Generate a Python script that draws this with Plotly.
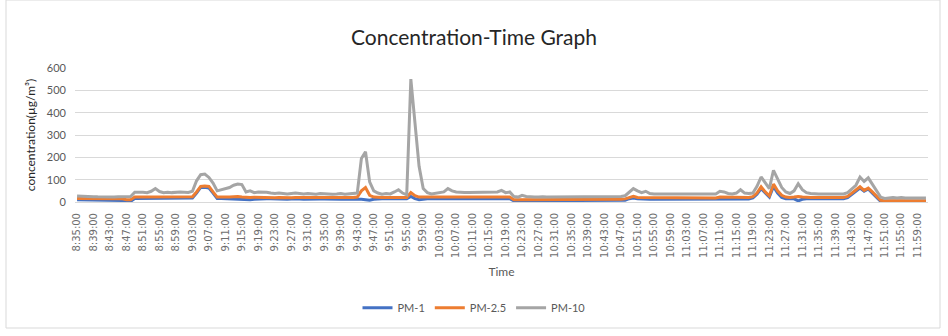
import pandas as pd
import plotly.graph_objects as go

# Sampling times: one reading per minute from 8:35 to 12:01
START_TIME = "08:35"
N_POINTS = 207

# Axis tick labels (every fourth minute)
TICK_LABELS = [
    "8:35:00", "8:39:00", "8:43:00", "8:47:00", "8:51:00", "8:55:00", "8:59:00",
    "9:03:00", "9:07:00", "9:11:00", "9:15:00", "9:19:00", "9:23:00", "9:27:00",
    "9:31:00", "9:35:00", "9:39:00", "9:43:00", "9:47:00", "9:51:00", "9:55:00",
    "9:59:00", "10:03:00", "10:07:00", "10:11:00", "10:15:00", "10:19:00",
    "10:23:00", "10:27:00", "10:31:00", "10:35:00", "10:39:00", "10:43:00",
    "10:47:00", "10:51:00", "10:55:00", "10:59:00", "11:03:00", "11:07:00",
    "11:11:00", "11:15:00", "11:19:00", "11:23:00", "11:27:00", "11:31:00",
    "11:35:00", "11:39:00", "11:43:00", "11:47:00", "11:51:00", "11:55:00",
    "11:59:00",
]

# Concentrations in µg/m³
PM1 = [
    10, 10, 10, 10, 9, 9, 9, 9, 9, 9,
    8, 7, 3, 3, 16, 16, 16, 16, 16, 18,
    16, 16, 16, 16, 16, 16, 16, 16, 18, 40,
    65, 66, 62, 40, 16, 16, 15, 15, 14, 12,
    10, 10, 10, 12, 14, 14, 15, 14, 13, 14,
    13, 12, 13, 14, 13, 12, 13, 14, 12, 13,
    13, 12, 13, 13, 12, 13, 13, 13, 14, 12,
    10, 8, 12, 14, 14, 14, 14, 14, 15, 14,
    14, 25, 15, 10, 14, 15, 15, 15, 15, 15,
    15, 15, 15, 15, 15, 15, 15, 15, 15, 15,
    15, 15, 15, 15, 15, 15, 5, 5, 5, 5,
    5, 5, 5, 5, 5, 5, 5, 5, 5, 5,
    5, 5, 5, 5, 5, 5, 5, 5, 5, 5,
    5, 5, 5, 8, 15, 18, 15, 13, 13, 12,
    12, 12, 12, 12, 12, 12, 12, 12, 12, 12,
    12, 12, 12, 12, 12, 12, 12, 12, 12, 12,
    12, 14, 13, 13, 18, 35, 60, 40, 22, 70,
    40, 20, 14, 14, 14, 5, 12, 14, 15, 15,
    15, 15, 15, 15, 15, 15, 15, 20, 35, 48,
    62, 48, 58, 40, 20, 3, 3, 3, 3, 3,
    3, 3, 3, 3, 3, 3, 3,
]

PM25 = [
    16, 16, 16, 15, 15, 14, 14, 14, 13, 13,
    14, 14, 10, 10, 22, 22, 22, 22, 22, 25,
    22, 22, 22, 22, 22, 22, 22, 22, 24, 45,
    70, 72, 70, 45, 22, 22, 21, 22, 24, 25,
    22, 20, 20, 21, 20, 20, 20, 18, 19, 20,
    19, 18, 19, 20, 20, 18, 19, 20, 18, 20,
    20, 19, 20, 20, 19, 20, 20, 20, 22, 50,
    65, 30, 22, 20, 20, 20, 20, 21, 22, 20,
    20, 42, 28, 22, 22, 22, 22, 22, 22, 22,
    22, 22, 22, 22, 22, 22, 22, 22, 22, 22,
    22, 22, 22, 22, 22, 22, 10, 10, 10, 10,
    10, 10, 10, 10, 10, 10, 10, 10, 12, 12,
    12, 12, 12, 12, 12, 12, 12, 12, 12, 12,
    12, 12, 12, 14, 20, 25, 20, 20, 20, 19,
    18, 18, 18, 18, 18, 18, 18, 18, 18, 18,
    18, 18, 18, 18, 18, 18, 22, 22, 20, 20,
    20, 22, 20, 20, 24, 40, 68, 45, 28, 80,
    50, 30, 22, 20, 22, 25, 22, 20, 20, 20,
    20, 20, 20, 20, 20, 20, 20, 25, 40, 52,
    68, 52, 62, 45, 25, 8, 6, 6, 6, 6,
    6, 6, 6, 6, 6, 6, 6,
]

PM10 = [
    27, 27, 27, 26, 24, 23, 22, 22, 22, 22,
    24, 24, 25, 25, 44, 45, 44, 42, 48, 60,
    47, 42, 44, 42, 45, 45, 44, 43, 48, 95,
    122, 125, 110, 85, 50, 55, 60, 65, 75, 80,
    78, 45, 50, 42, 45, 45, 44, 40, 38, 40,
    38, 36, 38, 40, 38, 36, 38, 36, 35, 38,
    36, 36, 35, 36, 38, 35, 36, 36, 40, 195,
    225, 90, 50, 40, 35, 38, 36, 45, 55, 40,
    32, 550, 360, 160, 60, 42, 36, 38, 40, 45,
    60, 50, 45, 42, 42, 42, 42, 42, 44, 42,
    42, 42, 45, 52, 42, 45, 25, 22, 30, 25,
    22, 22, 22, 24, 22, 22, 24, 25, 24, 24,
    22, 22, 22, 22, 22, 22, 22, 22, 22, 22,
    22, 25, 25, 28, 45, 60, 50, 42, 48, 38,
    36, 36, 36, 36, 36, 36, 36, 36, 36, 36,
    36, 36, 36, 36, 36, 36, 48, 45, 38, 36,
    40, 55, 40, 38, 40, 70, 112, 85, 60, 142,
    100, 65, 45, 38, 50, 82, 55, 42, 38, 36,
    36, 36, 36, 37, 36, 36, 36, 42, 60, 75,
    112, 92, 108, 80, 50, 22, 16, 18, 20, 18,
    20, 18, 18, 18, 18, 18, 18,
]

times = pd.date_range("2000-01-01 " + START_TIME, periods=N_POINTS, freq="min")
categories = [f"{t.hour}:{t.minute:02d}:00" for t in times]

SERIES = [
    ("PM-1", PM1, "#4472C4"),
    ("PM-2.5", PM25, "#ED7D31"),
    ("PM-10", PM10, "#A5A5A5"),
]

fig = go.Figure()
for name, values, color in SERIES:
    fig.add_trace(go.Scatter(
        x=categories, y=values, name=name, mode="lines",
        line=dict(color=color, width=3),
    ))

GRID = "#D9D9D9"
TEXT = "#595959"

fig.update_layout(
    width=948, height=336,
    margin=dict(l=75, r=20, t=68, b=134),
    paper_bgcolor="white", plot_bgcolor="white",
    font=dict(family="DejaVu Sans", color=TEXT, size=10),
    title=dict(
        text="Concentration-Time Graph",
        font=dict(family="Lato", size=21, color="#262626"),
        x=0.5, xanchor="center", y=1 - 38 / 336, yanchor="middle",
    ),
    showlegend=True,
    legend=dict(
        orientation="h", x=(474 - 75) / 853, xanchor="center",
        y=-0.79, yanchor="middle",
        font=dict(family="Lato", size=11, color=TEXT),
        itemwidth=30, tracegroupgap=0,
    ),
    xaxis=dict(
        type="category",
        categoryorder="array", categoryarray=categories,
        range=[-0.5, N_POINTS - 0.5],
        tickmode="array", tickvals=TICK_LABELS, ticktext=TICK_LABELS,
        tickangle=-90, ticks="", showgrid=False,
        showline=True, linecolor=GRID, linewidth=1,
        tickfont=dict(family="DejaVu Sans", size=10, color="#6E6E6E"),
        ticklabelstandoff=6,
        title=dict(text="Time", font=dict(family="Lato", size=12, color=TEXT), standoff=10),
    ),
    yaxis=dict(
        range=[0, 600], tickvals=[0, 100, 200, 300, 400, 500, 600],
        showgrid=True, gridcolor=GRID, gridwidth=1,
        zeroline=True, zerolinecolor=GRID, zerolinewidth=1,
        ticks="", ticklabelstandoff=8,
        tickfont=dict(family="Lato", size=11, color=TEXT),
        title=dict(text="concentration(µg/m³)",
                   font=dict(family="Lato", size=12, color="#262626"), standoff=8),
    ),
    shapes=[dict(
        type="rect", xref="paper", yref="paper",
        x0=(6 - 75) / 853, x1=(940 - 75) / 853,
        y0=(202 - 328) / 134, y1=(202 - 0) / 134,
        line=dict(color=GRID, width=1), fillcolor="rgba(0,0,0,0)", layer="below",
    )],
)

fig.write_html("out.html")
